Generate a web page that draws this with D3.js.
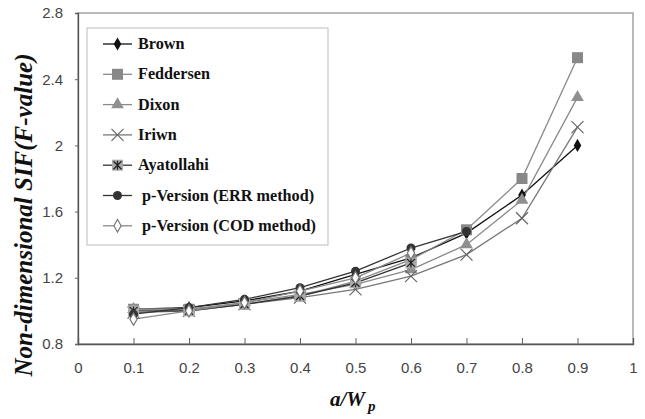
<!DOCTYPE html>
<html><head><meta charset="utf-8">
<script src="https://cdn.jsdelivr.net/npm/d3@7"></script>
<style>body{margin:0;background:#fff}svg{display:block}</style>
</head><body>
<svg id="c" width="645" height="419"></svg>
<script>
const xTicks = [0,0.1,0.2,0.3,0.4,0.5,0.6,0.7,0.8,0.9,1];
const yTicks = [0.8,1.2,1.6,2,2.4,2.8];
const xAll = [0.1,0.2,0.3,0.4,0.5,0.6,0.7,0.8,0.9];
const brown      = [1.01,1.02,1.06,1.12,1.22,1.32,1.47,1.70,2.00];
const feddersen  = [1.01,1.01,1.04,1.09,1.18,1.31,1.49,1.80,2.53];
const dixon      = [1.01,1.01,1.05,1.10,1.16,1.25,1.40,1.67,2.29];
const iriwn      = [0.99,1.00,1.04,1.08,1.13,1.21,1.34,1.56,2.11];
const ayatollahi = [1.00,1.00,1.04,1.09,1.17,1.29];
const errMethod  = [0.98,1.02,1.07,1.14,1.24,1.38,1.48];
const codMethod  = [0.95,1.00,1.05,1.12,1.20,1.35];
const seriesNames = ["Brown","Feddersen","Dixon","Iriwn","Ayatollahi","p-Version (ERR method)","p-Version (COD method)"];

const series = [
  {name:seriesNames[0], vals:brown, line:"#111", marker:"diamond", fill:"#111", stroke:"#111"},
  {name:seriesNames[1], vals:feddersen, line:"#8a8a8a", marker:"square", fill:"#888", stroke:"#888"},
  {name:seriesNames[2], vals:dixon, line:"#8a8a8a", marker:"triangle", fill:"#8f8f8f", stroke:"#8f8f8f"},
  {name:seriesNames[3], vals:iriwn, line:"#777", marker:"x", fill:"none", stroke:"#666"},
  {name:seriesNames[4], vals:ayatollahi, line:"#333", marker:"asq", fill:"#aaa", stroke:"#222"},
  {name:seriesNames[5], vals:errMethod, line:"#333", marker:"circle", fill:"#333", stroke:"#333"},
  {name:seriesNames[6], vals:codMethod, line:"#888", marker:"odiamond", fill:"#fff", stroke:"#777"}
];

const svg = d3.select("#c");
const L=78, R=633, T=13, B=344;
const x = d3.scaleLinear().domain([0,1]).range([L,R]);
const y = d3.scaleLinear().domain([0.8,2.8]).range([B,T]);

// frame
svg.append("rect").attr("x",L).attr("y",T).attr("width",R-L).attr("height",B-T)
  .attr("fill","none").attr("stroke","#a3a3a3").attr("stroke-width",1.5);

// axes
const gx = svg.append("g").attr("transform",`translate(0,${B})`)
  .call(d3.axisBottom(x).tickValues(xTicks).tickSize(-6).tickPadding(18).tickFormat(d=>d3.format("")(+d.toFixed(1))));
const gy = svg.append("g").attr("transform",`translate(${L},0)`)
  .call(d3.axisLeft(y).tickValues(yTicks).tickSize(3).tickPadding(12).tickFormat(d=>d3.format("")(+d.toFixed(1))));
[gx,gy].forEach(g=>{
  g.select(".domain").attr("stroke","#555").attr("stroke-width",1.3);
  g.selectAll(".tick line").attr("stroke","#666");
  g.selectAll("text").attr("font-family","Liberation Sans, Arial, sans-serif").attr("font-size",15).attr("fill","#444");
});
gx.selectAll(".tick").filter(d=>d===0||d===1).select("line").remove();

function marker(g, type, cx, cy, s){
  const sel = g.append("g").attr("transform",`translate(${cx},${cy})`);
  if(type==="diamond"){
    sel.append("path").attr("d",d3.symbol(d3.symbolDiamond, 50)()).attr("fill",s.fill);
  } else if(type==="square"){
    sel.append("rect").attr("x",-5.5).attr("y",-5.5).attr("width",11).attr("height",11).attr("fill",s.fill);
  } else if(type==="triangle"){
    sel.append("path").attr("d",d3.symbol(d3.symbolTriangle, 70)()).attr("fill",s.fill);
  } else if(type==="x"){
    sel.append("path").attr("d","M-6,-6L6,6M-6,6L6,-6").attr("stroke",s.stroke).attr("stroke-width",1.2).attr("fill","none");
  } else if(type==="asq"){
    sel.append("rect").attr("x",-5.5).attr("y",-5.5).attr("width",11).attr("height",11).attr("fill",s.fill);
    sel.append("path").attr("d","M-4,-4L4,4M-4,4L4,-4M0,-4.5L0,4.5").attr("stroke",s.stroke).attr("stroke-width",1.3);
  } else if(type==="circle"){
    sel.append("circle").attr("r",4.5).attr("fill",s.fill);
  } else if(type==="odiamond"){
    sel.append("path").attr("d",d3.symbol(d3.symbolDiamond, 45)()).attr("fill",s.fill).attr("stroke",s.stroke).attr("stroke-width",1.2);
  }
}

const line = d3.line().x(d=>x(d[0])).y(d=>y(d[1]));
const plot = svg.append("g");
series.forEach(s=>{
  const pts = s.vals.map((v,i)=>[xAll[i],v]);
  plot.append("path").attr("d",line(pts)).attr("fill","none").attr("stroke",s.line).attr("stroke-width",1.3);
});
series.forEach(s=>{
  s.vals.forEach((v,i)=>marker(plot, s.marker, x(xAll[i]), y(v), s));
});

// legend
const lg = svg.append("g");
lg.append("rect").attr("x",87).attr("y",28).attr("width",241).attr("height",217)
  .attr("fill","#fff").attr("stroke","#bbb").attr("stroke-width",1);
series.forEach((s,i)=>{
  const ly = 44 + i*30.3;
  lg.append("line").attr("x1",103).attr("x2",132).attr("y1",ly).attr("y2",ly).attr("stroke",s.line).attr("stroke-width",1.3);
  marker(lg, s.marker, 117.5, ly, s);
  lg.append("text").attr("x", i>=5?142:138).attr("y",ly+5)
    .attr("font-family","Liberation Serif, Times New Roman, serif").attr("font-weight","bold").attr("font-size",16.2)
    .attr("fill","#111").text(s.name);
});

// axis titles
svg.append("text").attr("transform","translate(32,215) rotate(-90)").attr("text-anchor","middle")
  .attr("font-family","Liberation Serif, Times New Roman, serif").attr("font-weight","bold").attr("font-style","italic")
  .attr("font-size",25).attr("fill","#111").text("Non-dimensional SIF(F-value)");
const xt = svg.append("text").attr("x",330).attr("y",406).attr("text-anchor","start")
  .attr("font-family","Liberation Serif, Times New Roman, serif").attr("font-weight","bold").attr("font-style","italic")
  .attr("font-size",21).attr("fill","#111");
xt.append("tspan").text("a/W");
xt.append("tspan").attr("dy",5).attr("dx",3).attr("font-size",15).text("p");
</script>
</body></html>
